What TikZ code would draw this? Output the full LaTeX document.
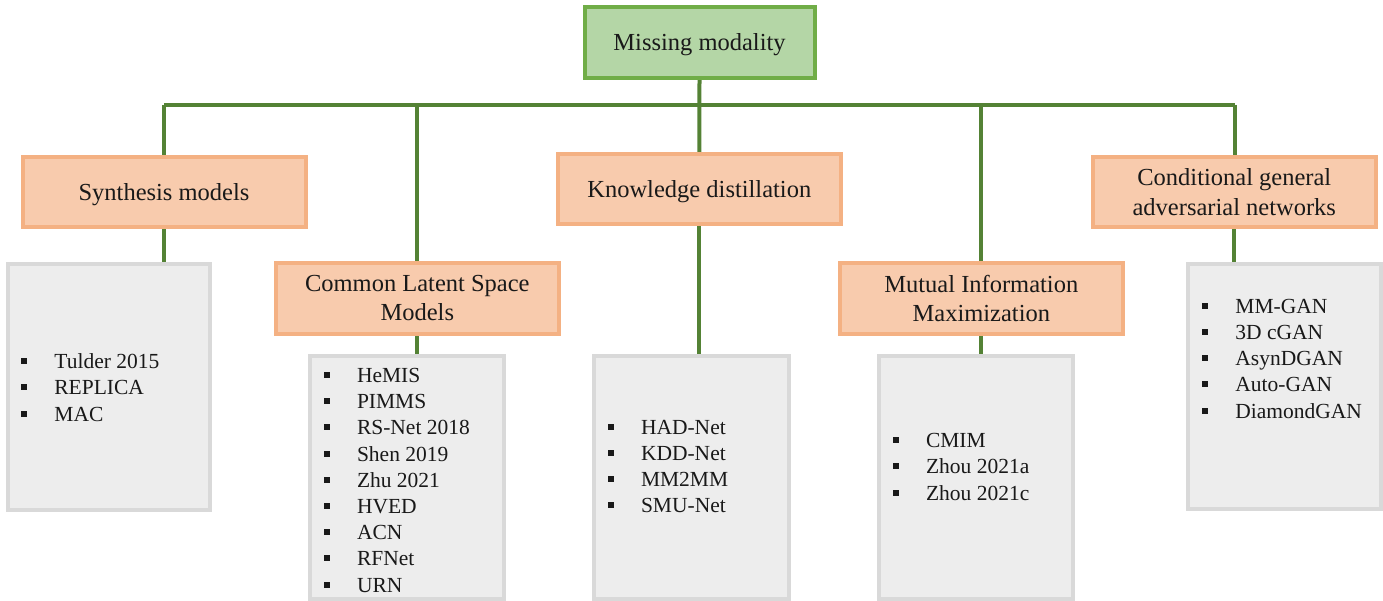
\documentclass[tikz,border=0pt]{standalone}
\usepackage{fontspec}
\setmainfont{Liberation Serif}
\usetikzlibrary{backgrounds}
\definecolor{linegreen}{HTML}{548235}
\definecolor{topfill}{HTML}{B4D6A6}
\definecolor{topborder}{HTML}{70AD47}
\definecolor{catfill}{HTML}{F8CBAD}
\definecolor{catborder}{HTML}{F4B183}
\definecolor{listfill}{HTML}{EDEDED}
\definecolor{listborder}{HTML}{D9D9D9}
\newcommand{\itm}[1]{\makebox[33.5pt][l]{\rule[4.5pt]{6pt}{6pt}}#1}
\tikzset{
  rootbox/.style={draw=topborder, fill=topfill, line width=4pt, minimum width=230pt, minimum height=71pt, inner sep=0pt, font=\fontsize{24.5}{29.4}\selectfont, text=black!90, text height=20pt, text depth=2.6pt},
  catbox/.style={draw=catborder, fill=catfill, line width=4pt, minimum width=283pt, minimum height=70.5pt, inner sep=0pt, align=center, font=\fontsize{24.5}{29.4}\selectfont, text=black!90},
  oneline/.style={text height=20pt, text depth=2.6pt},
  listbox/.style={draw=listborder, fill=listfill, line width=4pt, inner sep=0pt},
  listtext/.style={anchor=north west, inner sep=0pt, font=\fontsize{21.5}{26.2}\selectfont, text=black!90},
  conn/.style={draw=linegreen, line width=4pt}
}
\begin{document}
\begin{tikzpicture}[x=1pt,y=-1pt]
\useasboundingbox (0,0) rectangle (1383,601);
% root
\node[rootbox] (root) at (699.5,42.3) {Missing modality};
% categories
\node[catbox, oneline] (syn) at (164,192.2) {Synthesis models};
\node[catbox] (cls) at (417.3,298.3) {Common Latent Space\\Models};
\node[catbox, oneline] (kd)  at (699.3,189.2) {Knowledge distillation};
\node[catbox] (mim) at (981.3,298.3) {Mutual Information\\Maximization};
\node[catbox] (cg)  at (1234.3,192.2) {Conditional general\\adversarial networks};
% list boxes
\node[listbox, minimum width=202.3pt, minimum height=245.4pt] (synL) at (108.8,387) {};
\node[listbox, minimum width=193.7pt, minimum height=242.7pt] (clsL) at (407.2,477.7) {};
\node[listbox, minimum width=194.4pt, minimum height=243pt] (kdL) at (691.5,477.5) {};
\node[listbox, minimum width=194.3pt, minimum height=243pt] (mimL) at (975.8,477.5) {};
\node[listbox, minimum width=193pt, minimum height=244.7pt] (cgL) at (1284.5,386.7) {};
% list texts
\node[listtext] (synT) at (20.7,350.2) {\begin{tabular}{@{}l@{}}\itm{Tulder 2015}\\\itm{REPLICA}\\\itm{MAC}\end{tabular}};
\node[listtext] (clsT) at (323.3,364.0) {\begin{tabular}{@{}l@{}}\itm{HeMIS}\\\itm{PIMMS}\\\itm{RS-Net 2018}\\\itm{Shen 2019}\\\itm{Zhu 2021}\\\itm{HVED}\\\itm{ACN}\\\itm{RFNet}\\\itm{URN}\end{tabular}};
\node[listtext] (kdT) at (607.3,415.8) {\begin{tabular}{@{}l@{}}\itm{HAD-Net}\\\itm{KDD-Net}\\\itm{MM2MM}\\\itm{SMU-Net}\end{tabular}};
\node[listtext] (mimT) at (892.3,429.2) {\begin{tabular}{@{}l@{}}\itm{CMIM}\\\itm{Zhou 2021a}\\\itm{Zhou 2021c}\end{tabular}};
\node[listtext] (cgT) at (1201.7,294.7) {\begin{tabular}{@{}l@{}}\itm{MM-GAN}\\\itm{3D cGAN}\\\itm{AsynDGAN}\\\itm{Auto-GAN}\\\itm{DiamondGAN}\end{tabular}};
% connectors
\begin{scope}[on background layer]
\coordinate (bl) at (164,105);
\coordinate (br) at (1234.5,105);
\draw[conn] (root.south) -- (kd.north);
\draw[conn] (bl) -- (br);
\draw[conn] (bl) -- (syn.north);
\draw[conn] (cls.north |- bl) -- (cls.north);
\draw[conn] (mim.north |- bl) -- (mim.north);
\draw[conn] (br) -- (br |- cg.north);
\draw[conn] (syn.south) -- (syn.south |- synL.north);
\draw[conn] (cls.south) -- (cls.south |- clsL.north);
\draw[conn] (kd.south) -- (kd.south |- kdL.north);
\draw[conn] (mim.south) -- (mim.south |- mimL.north);
\draw[conn] (cg.south) -- (cg.south |- cgL.north);
\end{scope}
\end{tikzpicture}
\end{document}
